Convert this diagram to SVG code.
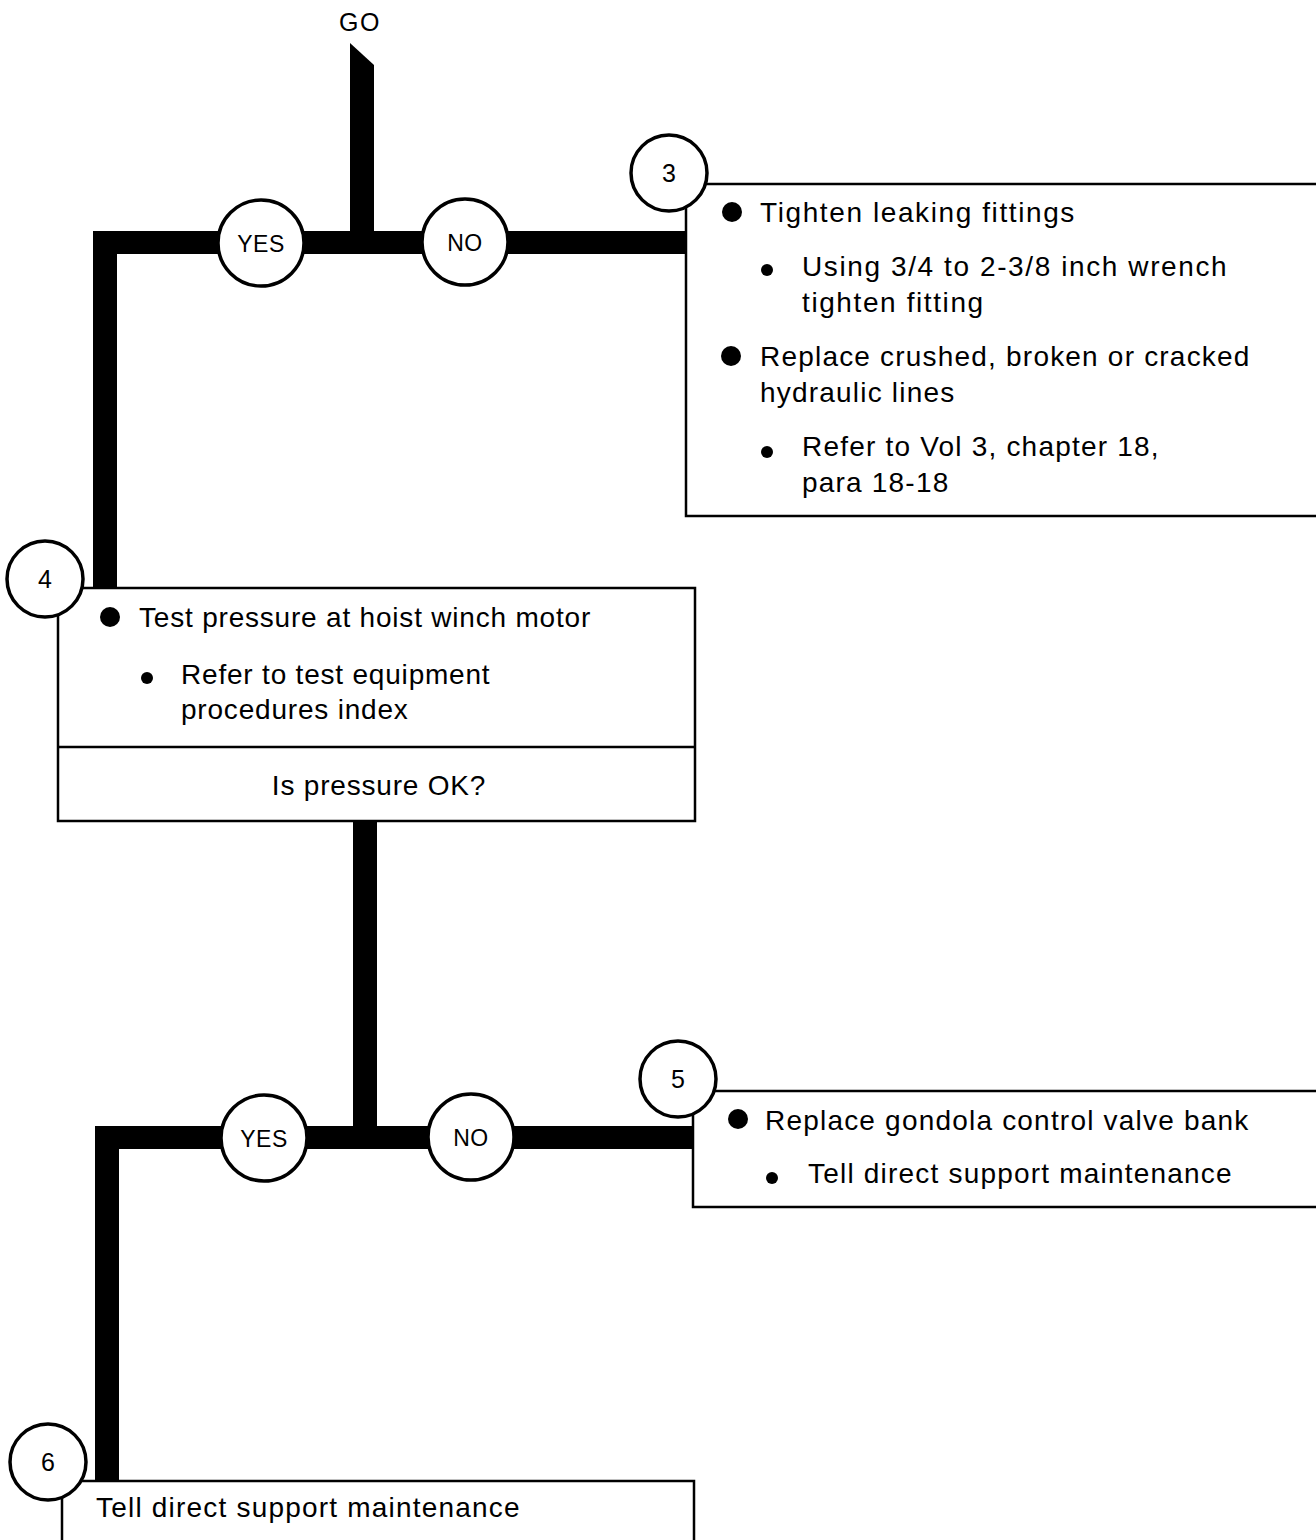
<svg xmlns="http://www.w3.org/2000/svg" width="1316" height="1540" viewBox="0 0 1316 1540">
<style>
text{font-family:"Liberation Sans",Arial,sans-serif;fill:#000}
.t{font-size:28px;letter-spacing:1.2px}
.w{letter-spacing:1.6px}
.n{letter-spacing:0.8px}
.lbl{font-size:23px;text-anchor:middle;letter-spacing:0.5px}
.num{font-size:25px;text-anchor:middle}
.circ{fill:#fff;stroke:#000;stroke-width:3.5}
.box{fill:#fff;stroke:#000;stroke-width:2.5}
.bar{fill:#000}
</style>
<rect width="1316" height="1540" fill="#fff"/>
<g id="connectors">
<polygon class="bar" points="350,43 374,65 374,244 350,244"/>
<rect class="bar" x="93" y="231" width="593" height="23"/>
<rect class="bar" x="93" y="231" width="24" height="358"/>
<rect class="bar" x="353" y="821" width="24" height="318"/>
<rect class="bar" x="95" y="1126" width="598" height="23"/>
<rect class="bar" x="95" y="1126" width="24" height="356"/>
</g>
<text x="360" y="31" class="lbl" style="font-size:25px;letter-spacing:1.5px">GO</text>
<g id="yes1"><circle class="circ" cx="261" cy="243" r="43"/><text x="261" y="252" class="lbl">YES</text></g>
<g id="no1"><circle class="circ" cx="465" cy="242" r="43"/><text x="465" y="251" class="lbl">NO</text></g>
<g id="node3">
<path class="box" d="M686,206 V516 H1318 M706,184 H1318"/>
<circle class="circ" cx="669" cy="173" r="38"/>
<text x="669" y="182" class="num">3</text>
<circle cx="732" cy="212" r="10"/>
<text x="760" y="222" class="t w">Tighten leaking fittings</text>
<circle cx="767" cy="270" r="6"/>
<text x="802" y="276" class="t w">Using 3/4 to 2-3/8 inch wrench</text>
<text x="802" y="312" class="t w">tighten fitting</text>
<circle cx="731" cy="356" r="10"/>
<text x="760" y="366" class="t">Replace crushed, broken or cracked</text>
<text x="760" y="402" class="t">hydraulic lines</text>
<circle cx="767" cy="452" r="6"/>
<text x="802" y="456" class="t">Refer to Vol 3, chapter 18,</text>
<text x="802" y="492" class="t">para 18-18</text>
</g>
<g id="node4">
<path class="box" d="M58,612 V821 H695 V588 H80 M58,747 H695"/>
<circle class="circ" cx="45" cy="579" r="38"/>
<text x="45" y="588" class="num">4</text>
<circle cx="110" cy="617" r="10"/>
<text x="139" y="627" class="t n">Test pressure at hoist winch motor</text>
<circle cx="147" cy="678" r="6"/>
<text x="181" y="684" class="t n">Refer to test equipment</text>
<text x="181" y="719" class="t n">procedures index</text>
<text x="379" y="795" class="t n" text-anchor="middle">Is pressure OK?</text>
</g>
<g id="yes2"><circle class="circ" cx="264" cy="1138" r="43"/><text x="264" y="1147" class="lbl">YES</text></g>
<g id="no2"><circle class="circ" cx="471" cy="1137" r="43"/><text x="471" y="1146" class="lbl">NO</text></g>
<g id="node5">
<path class="box" d="M693,1110 V1207 H1318 M714,1091 H1318"/>
<circle class="circ" cx="678" cy="1079" r="38"/>
<text x="678" y="1088" class="num">5</text>
<circle cx="738" cy="1119" r="10"/>
<text x="765" y="1130" class="t">Replace gondola control valve bank</text>
<circle cx="772" cy="1178" r="6"/>
<text x="808" y="1183" class="t">Tell direct support maintenance</text>
</g>
<g id="node6">
<path class="box" d="M62,1495 V1542 M82,1481 H694 V1542"/>
<circle class="circ" cx="48" cy="1462" r="38"/>
<text x="48" y="1471" class="num">6</text>
<text x="96" y="1517" class="t">Tell direct support maintenance</text>
</g>
</svg>
